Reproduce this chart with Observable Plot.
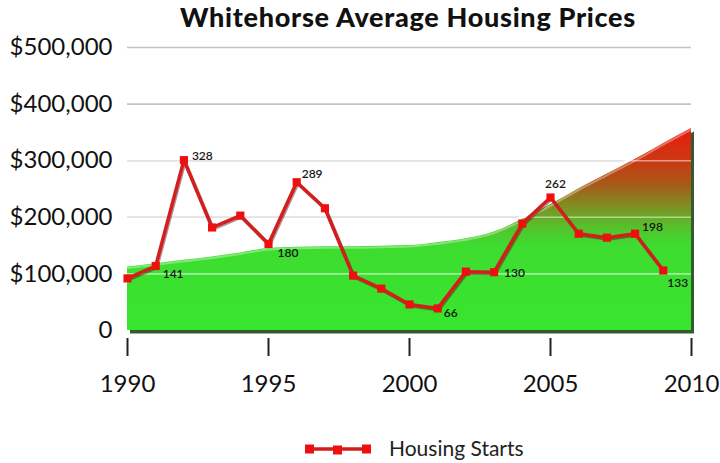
<!DOCTYPE html>
<html>
<head>
<meta charset="utf-8">
<script src="https://cdn.jsdelivr.net/npm/d3@7"></script>
<script src="https://cdn.jsdelivr.net/npm/@observablehq/plot@0.6"></script>
<style>
  html, body { margin: 0; padding: 0; background: #fff; }
  body { width: 720px; height: 463px; overflow: hidden; font-family: Lato, "Open Sans", sans-serif; }
  #title { height: 32px; text-align: center; font-weight: 900; font-size: 27px; letter-spacing: 0.7px; line-height: 34px; color: #111; padding-left: 96px; box-sizing: border-box; white-space: nowrap; }
  #chart svg { display: block; overflow: visible; }
  #legend { position: relative; height: 66px; }
</style>
</head>
<body>
<div id="title">Whitehorse Average Housing Prices</div>
<div id="chart"></div>
<div id="legend"></div>
<script>
// ---- data ----
const priceYears = [1990, 1991, 1992, 1993, 1994, 1995, 1996, 1997, 1998, 1999, 2000, 2001, 2002, 2003, 2004, 2005, 2006, 2007, 2008, 2009, 2010];
const avgPrice   = [112000, 118000, 124000, 130000, 137000, 145000, 147000, 148000, 148000, 149000, 150000, 155000, 162000, 174000, 196000, 222000, 250000, 276000, 302000, 330000, 357000];

const startYears = [1990, 1991, 1992, 1993, 1994, 1995, 1996, 1997, 1998, 1999, 2000, 2001, 2002, 2003, 2004, 2005, 2006, 2007, 2008, 2009];
const housingStarts = [119, 141, 328, 209, 230, 180, 289, 243, 124, 101, 73, 66, 131, 130, 216, 262, 198, 191, 198, 133];

// starts are drawn against the price axis: (starts - offset) * factor
const startsOffset = 27;
const startsFactor = 1000;

const labeledYears = [1991, 1992, 1995, 1996, 2001, 2003, 2005, 2008, 2009];

const xTicks = [1990, 1995, 2000, 2005, 2010];
const yTicks = [0, 100000, 200000, 300000, 400000, 500000];
const yTickLabels = ["0", "$100,000", "$200,000", "$300,000", "$400,000", "$500,000"];

// label placement (styling only)
const labelPlacement = {
  1991: {dx: 7, dy: 8, anchor: "start"},
  1992: {dx: 8, dy: -4, anchor: "start"},
  1995: {dx: 9, dy: 9, anchor: "start"},
  1996: {dx: 5, dy: -8, anchor: "start"},
  2001: {dx: 6, dy: 5, anchor: "start"},
  2003: {dx: 10, dy: 1, anchor: "start"},
  2005: {dx: 5, dy: -13, anchor: "middle"},
  2008: {dx: 7, dy: -7, anchor: "start"},
  2009: {dx: 4, dy: 13, anchor: "start"}
};

const prices = priceYears.map((yr, i) => ({year: yr, price: avgPrice[i]}));
const starts = startYears.map((yr, i) => ({year: yr, starts: housingStarts[i], yv: (housingStarts[i] - startsOffset) * startsFactor}));

const labelMarks = labeledYears.map(yr => {
  const p = labelPlacement[yr];
  return Plot.text(starts.filter(d => d.year === yr), {
    x: "year", y: "yv", text: d => String(d.starts),
    dx: p.dx, dy: p.dy, textAnchor: p.anchor,
    fontSize: 12, fontWeight: 600, fill: "#151515"
  });
});

const plot = Plot.plot({
  width: 720,
  height: 365,
  marginLeft: 127,
  marginRight: 29,
  marginTop: 15,
  marginBottom: 67,
  style: {fontFamily: "Lato, 'Open Sans', sans-serif", color: "#111", background: "transparent"},
  x: {domain: [1990, 2010], ticks: xTicks, tickFormat: d => String(d)},
  y: {domain: [0, 500000], ticks: yTicks},
  marks: [
    Plot.ruleY(yTicks.filter(d => d > 0), {y: d => d, stroke: "#c4c4c4", strokeWidth: 1.6}),
    // shadow of the area
    Plot.areaY(prices, {x: "year", y: "price", fill: "#123d0a", fillOpacity: 0.85, curve: "monotone-x", dx: 3, dy: 3.5}),
    // soft white rim on top of the area
    Plot.line(prices, {x: "year", y: "price", stroke: "#ffffff", strokeWidth: 6, strokeOpacity: 0.9, curve: "monotone-x", dy: -1}),
    Plot.areaY(prices, {x: "year", y: "price", fill: "url(#priceGrad)", curve: "monotone-x"}),
    Plot.line(prices, {x: "year", y: "price", stroke: "#ffffff", strokeWidth: 2, strokeOpacity: 0.35, curve: "monotone-x", dy: 1}),
    Plot.ruleY(yTicks.filter(d => d > 0 && d < 400000), {y: d => d, stroke: "#ffffff", strokeOpacity: 0.5, strokeWidth: 1.6}),
    // line shadow
    Plot.line(starts, {x: "year", y: "yv", stroke: "#5a0a0a", strokeOpacity: 0.45, strokeWidth: 3.5, dx: 1, dy: 1.3}),
    Plot.line(starts, {x: "year", y: "yv", stroke: "#d41e1e", strokeWidth: 3.5}),
    Plot.dot(starts, {x: "year", y: "yv", symbol: "square", r: 4.6, fill: "#ee1010", stroke: "none"}),
    ...labelMarks,
    Plot.axisY({ticks: yTicks, tickFormat: d => yTickLabels[yTicks.indexOf(d)], tickSize: 0, tickPadding: 15, fontSize: 24, label: null}),
    Plot.axisX({ticks: xTicks, text: null, tickSize: 18, dy: 8, strokeWidth: 2, stroke: "#222", label: null}),
    Plot.axisX({ticks: xTicks, tickFormat: d => String(d), tickSize: 0, tickPadding: 44, fontSize: 24, label: null})
  ]
});

document.getElementById("chart").appendChild(plot);

// gradient
const ys = plot.scale("y");
const ns = "http://www.w3.org/2000/svg";
const defs = document.createElementNS(ns, "defs");
const grad = document.createElementNS(ns, "linearGradient");
grad.setAttribute("id", "priceGrad");
grad.setAttribute("gradientUnits", "userSpaceOnUse");
grad.setAttribute("x1", "0"); grad.setAttribute("x2", "0");
grad.setAttribute("y1", String(ys.apply(360000)));
grad.setAttribute("y2", String(ys.apply(0)));
const stopVals = [
  [360000, "#ea1a10"],
  [300000, "#cc3812"],
  [255000, "#a45c18"],
  [215000, "#7c9424"],
  [185000, "#58be2c"],
  [150000, "#3edc30"],
  [0, "#37e62e"]
];
stopVals.forEach(([v, c]) => {
  const s = document.createElementNS(ns, "stop");
  s.setAttribute("offset", String((360000 - v) / 360000));
  s.setAttribute("stop-color", c);
  grad.appendChild(s);
});
defs.appendChild(grad);
plot.insertBefore(defs, plot.firstChild);

// legend
const lg = document.getElementById("legend");
lg.innerHTML =
  '<svg width="720" height="66" style="position:absolute;left:0;top:0;overflow:visible">' +
  '<line x1="309" x2="368" y1="52" y2="52" stroke="#d41e1e" stroke-width="3.5"/>' +
  '<rect x="305" y="47.5" width="9" height="9" fill="#ee1010"/>' +
  '<rect x="333" y="48.5" width="9" height="9" fill="#ee1010"/>' +
  '<rect x="362" y="47.5" width="9" height="9" fill="#ee1010"/>' +
  '<text x="389" y="59" font-family="Lato, sans-serif" font-size="21" fill="#222">Housing Starts</text>' +
  '</svg>';
</script>
</body>
</html>
